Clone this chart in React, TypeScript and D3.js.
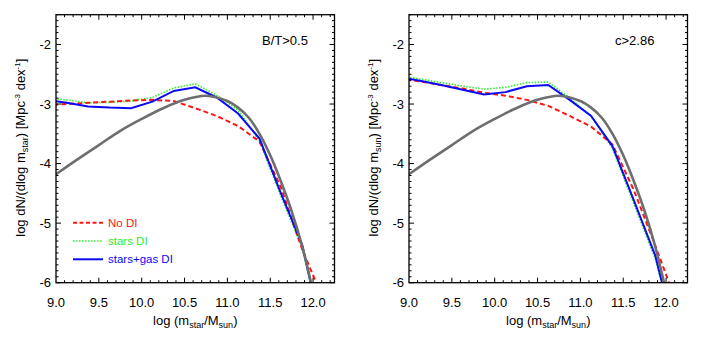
import * as React from "react";
import * as d3 from "d3";

// bin centres in log stellar mass (first one sits just left of the frame and is clipped)
const massBins = [8.875, 9.125, 9.375, 9.625, 9.875, 10.125, 10.375, 10.625, 10.875, 11.125, 11.375, 11.625, 11.875, 12.125];

// B/T > 0.5 panel
const btNoDI = [-3.02, -3.0, -2.98, -2.96, -2.94, -2.93, -2.95, -3.07, -3.2, -3.37, -3.63, -4.4, -5.45, -6.3];
const btStarsDI = [-2.9, -2.93, -2.98, -2.97, -2.95, -2.89, -2.73, -2.66, -2.85, -3.1, -3.62, -4.55, -5.42, -7.0];
const btStarsGasDI = [-2.93, -2.98, -3.04, -3.06, -3.07, -2.96, -2.78, -2.72, -2.89, -3.16, -3.58, -4.5, -5.37, -7.0];

// c > 2.86 panel
const cNoDI = [-2.57, -2.62, -2.68, -2.74, -2.81, -2.86, -2.93, -3.03, -3.2, -3.38, -3.68, -4.45, -5.38, -6.35];
const cStarsDI = [-2.52, -2.58, -2.64, -2.7, -2.75, -2.72, -2.64, -2.63, -2.9, -3.2, -3.75, -4.68, -5.6, -7.0];
const cStarsGasDI = [-2.54, -2.61, -2.68, -2.76, -2.84, -2.8, -2.7, -2.68, -2.93, -3.2, -3.71, -4.62, -5.55, -7.0];

// observed mass function (grey curve), same in both panels
const obsMass = [9.0, 9.25, 9.5, 9.75, 10.0, 10.25, 10.5, 10.75, 11.0, 11.125, 11.25, 11.375, 11.5, 11.625, 11.75, 11.875, 12.0, 12.1];
const obsPhi = [-4.18, -3.93, -3.69, -3.45, -3.25, -3.07, -2.93, -2.86, -2.95, -3.06, -3.23, -3.5, -3.86, -4.3, -4.8, -5.4, -6.15, -6.8];

const xTickLabels = [9.0, 9.5, 10.0, 10.5, 11.0, 11.5, 12.0];
const yTickLabels = [-2, -3, -4, -5, -6];

const legendLabels = ["No DI", "stars DI", "stars+gas DI"];

const FONT = "'Liberation Sans', Arial, Helvetica, sans-serif";
const RED = "#ff1414";
const GREEN = "#2cf02c";
const BLUE = "#0a0af5";
const GREY = "#6e6e6e";

const W = 278.5;
const H = 268;
const TOP = 14.7;

type Pt = [number, number];

function Panel({
  left,
  id,
  noDI,
  starsDI,
  starsGasDI,
  label,
  ySub,
  showLegend,
}: {
  left: number;
  id: string;
  noDI: number[];
  starsDI: number[];
  starsGasDI: number[];
  label: string;
  ySub: string;
  showLegend: boolean;
}) {
  const xScale = d3.scaleLinear().domain([9, 12.25]).range([0, W]);
  const yScale = d3.scaleLinear().domain([-6, -1.5]).range([H, 0]);

  const line = d3
    .line<Pt>()
    .x((d) => xScale(d[0]))
    .y((d) => yScale(d[1]));
  const smooth = d3
    .line<Pt>()
    .x((d) => xScale(d[0]))
    .y((d) => yScale(d[1]))
    .curve(d3.curveCatmullRom);

  const toPts = (ys: number[]): Pt[] => massBins.map((m, i) => [m, ys[i]]);
  const obsPts: Pt[] = obsMass.map((m, i) => [m, obsPhi[i]]);

  const xMinor = d3.range(91, 123).map((v) => v / 10);
  const yMinor = d3.range(-60, -14).map((v) => v / 10);

  const tick = (major: boolean) => (major ? 5 : 2.5);
  const isMajorX = (v: number) => Math.abs(v * 2 - Math.round(v * 2)) < 1e-6;
  const isMajorY = (v: number) => Math.abs(v - Math.round(v)) < 1e-6;

  const series = [
    { pts: toPts(starsDI), color: GREEN, width: 1.6, dash: "1.5,1.5" },
    { pts: toPts(noDI), color: RED, width: 2, dash: "5,3" },
    { pts: toPts(starsGasDI), color: BLUE, width: 2, dash: undefined },
  ];

  const legend = [
    { color: RED, width: 2, dash: "4,2.5" },
    { color: GREEN, width: 1.6, dash: "1.5,1.5" },
    { color: BLUE, width: 2, dash: undefined },
  ];

  return (
    <g transform={`translate(${left}, ${TOP})`} fontFamily={FONT}>
      <defs>
        <clipPath id={id}>
          <rect x={0} y={0} width={W} height={H} />
        </clipPath>
      </defs>
      <g clipPath={`url(#${id})`}>
        {series.map((s, i) => (
          <path
            key={i}
            d={line(s.pts) ?? ""}
            fill="none"
            stroke={s.color}
            strokeWidth={s.width}
            strokeDasharray={s.dash}
          />
        ))}
        <path d={smooth(obsPts) ?? ""} fill="none" stroke={GREY} strokeWidth={2.6} />
      </g>

      {/* ticks on all four sides, pointing in */}
      <g stroke="black" strokeWidth={1}>
        {xMinor.map((v, i) => {
          const x = xScale(v);
          const l = tick(isMajorX(v));
          return (
            <g key={i}>
              <line x1={x} x2={x} y1={H} y2={H - l} />
              <line x1={x} x2={x} y1={0} y2={l} />
            </g>
          );
        })}
        {yMinor.map((v, i) => {
          const y = yScale(v);
          const l = tick(isMajorY(v));
          return (
            <g key={i}>
              <line x1={0} x2={l} y1={y} y2={y} />
              <line x1={W} x2={W - l} y1={y} y2={y} />
            </g>
          );
        })}
      </g>
      <rect x={0} y={0} width={W} height={H} fill="none" stroke="black" strokeWidth={1.3} />

      <g fontSize={13} textAnchor="middle">
        {xTickLabels.map((v, i) => (
          <text key={i} x={xScale(v)} y={H + 24}>
            {v.toFixed(1)}
          </text>
        ))}
      </g>
      <g fontSize={13} textAnchor="end">
        {yTickLabels.map((v, i) => (
          <text key={i} x={-5} y={yScale(v)} dy="0.36em">
            {v}
          </text>
        ))}
      </g>

      <text x={W / 2} y={H + 42} fontSize={13} textAnchor="middle">
        log (m
        <tspan fontSize={9} dy={3}>star</tspan>
        <tspan dy={-3}>/M</tspan>
        <tspan fontSize={9} dy={3}>sun</tspan>
        <tspan dy={-3}>)</tspan>
      </text>

      <text
        transform={`translate(-31, ${H / 2 - 1}) rotate(-90)`}
        fontSize={13}
        textAnchor="middle"
      >
        log dN/(dlog m
        <tspan fontSize={9} dy={3}>{ySub}</tspan>
        <tspan dy={-3}>) [Mpc</tspan>
        <tspan fontSize={8} dy={-5}>-3</tspan>
        <tspan dy={5}> dex</tspan>
        <tspan fontSize={8} dy={-5}>-1</tspan>
        <tspan dy={5}>]</tspan>
      </text>

      <text x={206} y={30.5} fontSize={13}>
        {label}
      </text>

      {showLegend && (
        <g fontSize={11.5}>
          {legendLabels.map((lab, i) => {
            const y = 208 + i * 18.3;
            const s = legend[i];
            return (
              <g key={i}>
                <line
                  x1={17}
                  x2={47}
                  y1={y}
                  y2={y}
                  stroke={s.color}
                  strokeWidth={s.width}
                  strokeDasharray={s.dash}
                />
                <text x={52} y={y} dy="0.35em" fill={s.color}>
                  {lab}
                </text>
              </g>
            );
          })}
        </g>
      )}
    </g>
  );
}

export default function App() {
  return (
    <svg
      width={706}
      height={342}
      style={{ position: "absolute", left: 0, top: 0, background: "white" }}
    >
      <Panel
        left={56}
        id="clipA"
        noDI={btNoDI}
        starsDI={btStarsDI}
        starsGasDI={btStarsGasDI}
        label="B/T>0.5"
        ySub="star"
        showLegend={true}
      />
      <Panel
        left={409}
        id="clipB"
        noDI={cNoDI}
        starsDI={cStarsDI}
        starsGasDI={cStarsGasDI}
        label="c>2.86"
        ySub="sun"
        showLegend={false}
      />
    </svg>
  );
}
